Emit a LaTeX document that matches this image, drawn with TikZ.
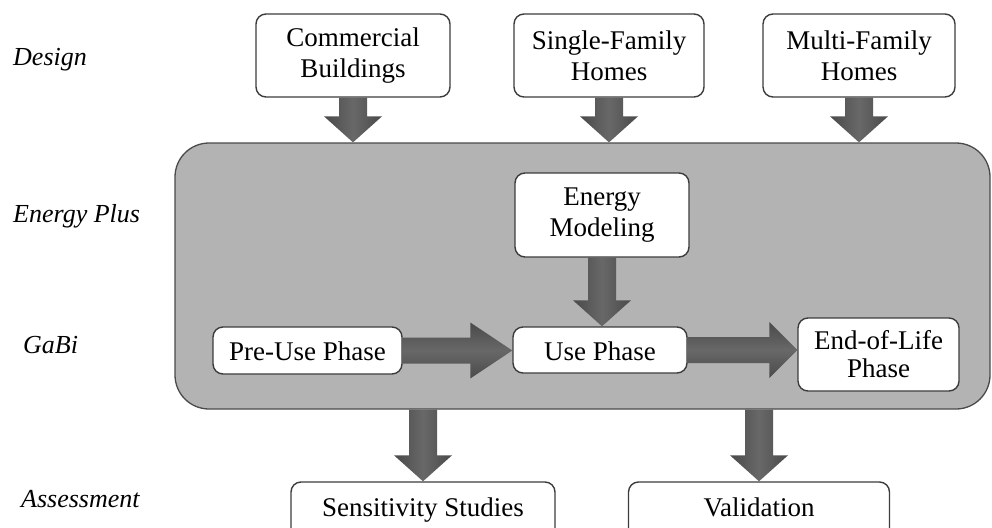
\documentclass[tikz,border=0pt]{standalone}
\usepackage{fontspec}
\setmainfont{Liberation Serif}
\usetikzlibrary{calc}
\definecolor{boxline}{HTML}{3C3C3C}
\definecolor{bigfill}{HTML}{B3B3B3}
\definecolor{bigline}{HTML}{4A4A4A}
\definecolor{arredge}{HTML}{4A4A4A}
\definecolor{arrmid}{HTML}{686868}
\newcommand\fatdown[2]{%
  \path[fatv] let \p1=(#1), \p2=(#2) in
    (\x1-14pt,\y1) -- (\x1+14pt,\y1) -- (\x1+14pt,\y2+26pt) -- (\x1+29pt,\y2+26pt)
    -- (\x1,\y2) -- (\x1-29pt,\y2+26pt) -- (\x1-14pt,\y2+26pt) -- cycle;}
\newcommand\fatright[3]{%
  \path[fath] let \p1=(#1), \p2=(#2) in
    (\x1,\y1+13pt) -- (\x2-#3pt,\y1+13pt) -- (\x2-#3pt,\y1+28pt) -- (\x2,\y1)
    -- (\x2-#3pt,\y1-28pt) -- (\x2-#3pt,\y1-13pt) -- (\x1,\y1-13pt) -- cycle;}
\begin{document}
\begin{tikzpicture}[x=1pt,y=-1pt,
  box/.style={draw=boxline, line width=1.4pt, rounded corners=10pt, fill=white,
    align=center, inner sep=0pt, font=\fontsize{27}{31}\selectfont},
  one/.style={text height=18pt, text depth=6pt},
  mid/.style={text height=21pt, text depth=1pt},
  bigbox/.style={draw=bigline, line width=1.3pt, rounded corners=34pt, fill=bigfill, inner sep=0pt},
  lab/.style={anchor=base west, inner sep=0pt, font=\fontsize{26}{30}\selectfont\itshape},
  fatv/.style={left color=arredge, right color=arredge, middle color=arrmid},
  fath/.style={top color=arredge, bottom color=arredge, middle color=arrmid}]
\useasboundingbox (0,0) rectangle (992,527);
\clip (0,0) rectangle (992,527);

% side labels
\node[lab] (ldesign) at (13,65) {Design};
\node[lab] (lenergy) at (13,222) {Energy Plus};
\node[lab] (lgabi) at (23,353) {GaBi};
\node[lab] (lassess) at (21,507) {Assessment};

% big container
\node[bigbox, minimum width=815pt, minimum height=266pt] (big) at (582.5,276) {};

% top boxes
\node[box, minimum width=194pt, minimum height=83pt] (cb) at (353,55.5) {Commercial\\Buildings};
\node[box, minimum width=190pt, minimum height=83pt] (sf) at (609,55.5) {Single-Family\\Homes};
\node[box, minimum width=192pt, minimum height=83pt] (mf) at (859,55.5) {Multi-Family\\Homes};

% inner boxes
\node[box, minimum width=174pt, minimum height=84pt] (em) at (602,215) {Energy\\Modeling};
\node[box, mid, minimum width=174pt, minimum height=46pt] (use) at (600,350) {Use Phase};
\node[box, mid, minimum width=189pt, minimum height=47pt] (pre) at (307.5,350.5) {Pre-Use Phase};
\node[box, minimum width=161pt, minimum height=73pt] (eol) at (878.5,354.5) {End-of-Life\\[-3pt]Phase};

% bottom boxes
\node[box, one, minimum width=264pt, minimum height=56pt] (sens) at (423,510) {Sensitivity Studies};
\node[box, one, minimum width=261pt, minimum height=56pt] (val) at (759,510) {Validation};

% arrows
\fatdown{cb.south}{cb.south |- big.north}
\fatdown{sf.south}{sf.south |- big.north}
\fatdown{mf.south}{mf.south |- big.north}
\fatdown{em.south}{use.north}
\fatright{pre.east}{use.west}{42}
\fatright{use.east}{eol.west |- use.east}{28}
\fatdown{sens.north |- big.south}{sens.north}
\fatdown{val.north |- big.south}{val.north}
\end{tikzpicture}
\end{document}
